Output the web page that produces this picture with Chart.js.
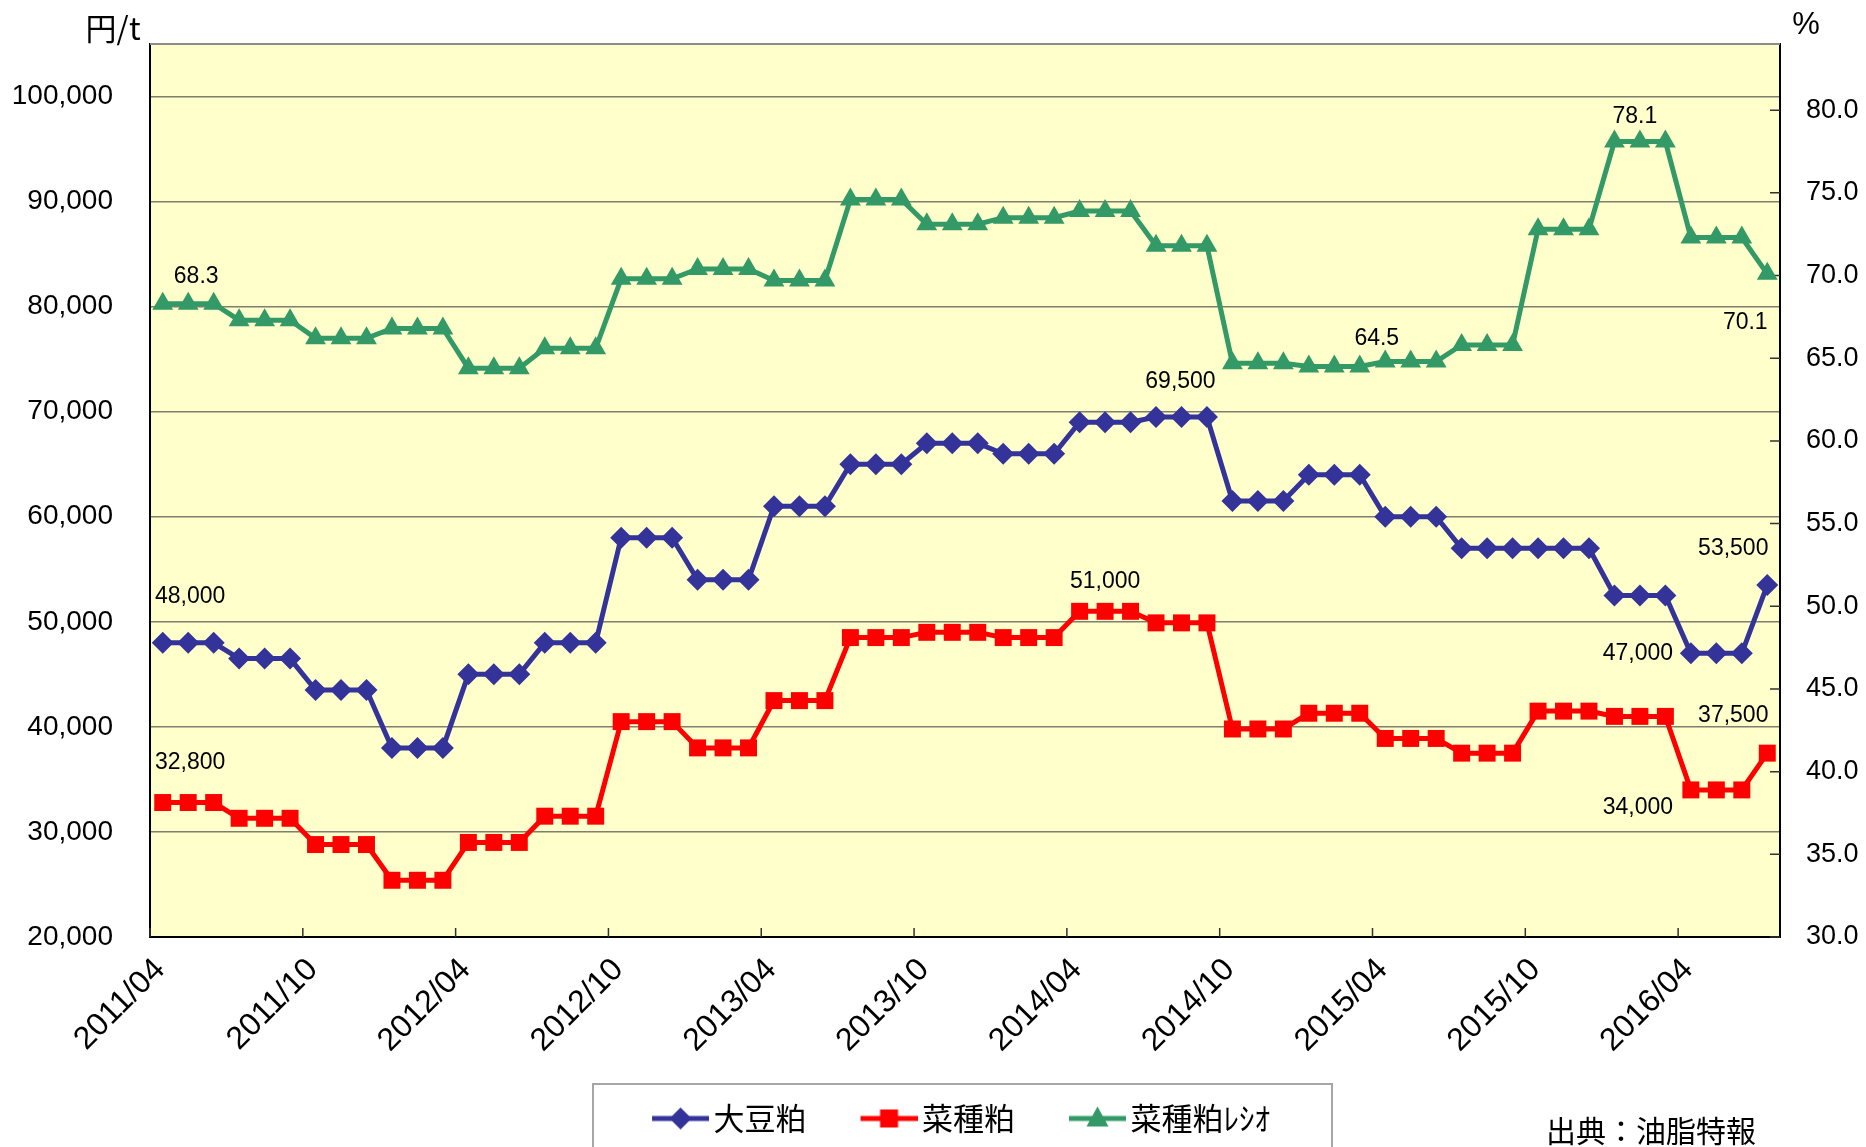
<!DOCTYPE html>
<html lang="ja">
<head>
<meta charset="utf-8">
<title>大豆粕・菜種粕 価格推移</title>
<script src="https://cdn.jsdelivr.net/npm/chart.js@4.4.1/dist/chart.umd.min.js"></script>
<style>
  html, body { margin: 0; padding: 0; background: #fff; }
  #wrap { width: 1866px; height: 1147px; }
</style>
</head>
<body>
<div id="wrap"><canvas id="chart" width="1866" height="1147"></canvas></div>
<script>
// 月 (2011/04 - 2016/07)
const months = [
  '2011/04', '2011/05', '2011/06', '2011/07', '2011/08', '2011/09', '2011/10', '2011/11', '2011/12',
  '2012/01', '2012/02', '2012/03', '2012/04', '2012/05', '2012/06', '2012/07', '2012/08', '2012/09', '2012/10', '2012/11', '2012/12',
  '2013/01', '2013/02', '2013/03', '2013/04', '2013/05', '2013/06', '2013/07', '2013/08', '2013/09', '2013/10', '2013/11', '2013/12',
  '2014/01', '2014/02', '2014/03', '2014/04', '2014/05', '2014/06', '2014/07', '2014/08', '2014/09', '2014/10', '2014/11', '2014/12',
  '2015/01', '2015/02', '2015/03', '2015/04', '2015/05', '2015/06', '2015/07', '2015/08', '2015/09', '2015/10', '2015/11', '2015/12',
  '2016/01', '2016/02', '2016/03', '2016/04', '2016/05', '2016/06', '2016/07'
];
const tickLabels = ['2011/04', '2011/10', '2012/04', '2012/10', '2013/04', '2013/10',
  '2014/04', '2014/10', '2015/04', '2015/10', '2016/04'];
const yTicks = [20000, 30000, 40000, 50000, 60000, 70000, 80000, 90000, 100000];
const y1Ticks = [30, 35, 40, 45, 50, 55, 60, 65, 70, 75, 80];

// 大豆粕 (円/t)
const soyMeal = [
  48000, 48000, 48000, 46500, 46500, 46500, 43500, 43500, 43500, 38000, 38000, 38000,
  45000, 45000, 45000, 48000, 48000, 48000, 58000, 58000, 58000, 54000, 54000, 54000,
  61000, 61000, 61000, 65000, 65000, 65000, 67000, 67000, 67000, 66000, 66000, 66000,
  69000, 69000, 69000, 69500, 69500, 69500, 61500, 61500, 61500, 64000, 64000, 64000,
  60000, 60000, 60000, 57000, 57000, 57000, 57000, 57000, 57000, 52500, 52500, 52500,
  47000, 47000, 47000, 53500
];
// 菜種粕 (円/t)
const rapeMeal = [
  32800, 32800, 32800, 31300, 31300, 31300, 28800, 28800, 28800, 25400, 25400, 25400,
  29000, 29000, 29000, 31500, 31500, 31500, 40500, 40500, 40500, 38000, 38000, 38000,
  42500, 42500, 42500, 48500, 48500, 48500, 49000, 49000, 49000, 48500, 48500, 48500,
  51000, 51000, 51000, 49900, 49900, 49900, 39800, 39800, 39800, 41300, 41300, 41300,
  38900, 38900, 38900, 37500, 37500, 37500, 41500, 41500, 41500, 41000, 41000, 41000,
  34000, 34000, 34000, 37500
];
// 菜種粕レシオ (%)
const rapeRatio = [
  68.3, 68.3, 68.3, 67.3, 67.3, 67.3, 66.2, 66.2, 66.2, 66.8, 66.8, 66.8,
  64.4, 64.4, 64.4, 65.6, 65.6, 65.6, 69.8, 69.8, 69.8, 70.4, 70.4, 70.4,
  69.7, 69.7, 69.7, 74.6, 74.6, 74.6, 73.1, 73.1, 73.1, 73.5, 73.5, 73.5,
  73.9, 73.9, 73.9, 71.8, 71.8, 71.8, 64.7, 64.7, 64.7, 64.5, 64.5, 64.5,
  64.8, 64.8, 64.8, 65.8, 65.8, 65.8, 72.8, 72.8, 72.8, 78.1, 78.1, 78.1,
  72.3, 72.3, 72.3, 70.1
];

// データラベル (系列, 月index, 点からのずれ)
const pointLabels = [
  { ds: 0, i: 1, dx: 2, dy: -46 },
  { ds: 0, i: 40, dx: -1, dy: -35 },
  { ds: 0, i: 60, dx: -53, dy: 0 },
  { ds: 0, i: 63, dx: -34, dy: -36 },
  { ds: 1, i: 1, dx: 2, dy: -40 },
  { ds: 1, i: 37, dx: 0, dy: -30 },
  { ds: 1, i: 60, dx: -53, dy: 18 },
  { ds: 1, i: 63, dx: -34, dy: -37 },
  { ds: 2, i: 1, dx: 8, dy: -27 },
  { ds: 2, i: 47, dx: 17, dy: -28 },
  { ds: 2, i: 58, dx: -5, dy: -25 },
  { ds: 2, i: 63, dx: -22, dy: 49 }
];

const NUM_FONT = "'Liberation Sans', Arial, 'Noto Sans CJK JP', sans-serif";
const JP_FONT = "'Noto Sans CJK JP', 'Liberation Sans', sans-serif";
const BLUE = '#333399';
const RED = '#ff0000';
const GREEN = '#339966';

const toPoints = arr => arr.map((v, i) => ({ x: i + 0.5, y: v }));

// 凡例アイコン (線 + マーカー)
function makeLegendIcon(color, marker) {
  const c = document.createElement('canvas');
  c.width = 112;
  c.height = 30;
  const g = c.getContext('2d');
  g.strokeStyle = color;
  g.fillStyle = color;
  g.lineWidth = 5;
  g.beginPath();
  g.moveTo(55, 15);
  g.lineTo(112, 15);
  g.stroke();
  const cx = 83.5, cy = 15;
  g.beginPath();
  if (marker === 'diamond') {
    g.moveTo(cx, cy - 11); g.lineTo(cx + 11, cy); g.lineTo(cx, cy + 11); g.lineTo(cx - 11, cy);
  } else if (marker === 'square') {
    g.rect(cx - 9, cy - 9, 18, 18);
  } else {
    g.moveTo(cx, cy - 12); g.lineTo(cx + 11, cy + 8); g.lineTo(cx - 11, cy + 8);
  }
  g.closePath();
  g.fill();
  return c;
}
const legendIcons = [
  makeLegendIcon(BLUE, 'diamond'),
  makeLegendIcon(RED, 'square'),
  makeLegendIcon(GREEN, 'triangle')
];

const decorPlugin = {
  id: 'decor',
  beforeDraw(chart) {
    const { ctx, chartArea: a } = chart;
    ctx.save();
    ctx.fillStyle = '#ffffcc';
    ctx.fillRect(a.left, a.top, a.right - a.left, a.bottom - a.top);
    ctx.restore();
  },
  beforeDatasetsDraw(chart) {
    const { ctx, chartArea: a, scales } = chart;
    ctx.save();
    // 上枠
    ctx.strokeStyle = '#8c8c8c';
    ctx.lineWidth = 2;
    ctx.beginPath();
    ctx.moveTo(a.left, a.top);
    ctx.lineTo(a.right, a.top);
    ctx.stroke();
    // 内向き目盛
    ctx.strokeStyle = '#333';
    ctx.lineWidth = 1.5;
    ctx.beginPath();
    scales.x.ticks.forEach(t => {
      const px = scales.x.getPixelForValue(t.value);
      ctx.moveTo(px, a.bottom);
      ctx.lineTo(px, a.bottom - 9);
    });
    scales.y1.ticks.forEach(t => {
      const py = scales.y1.getPixelForValue(t.value);
      ctx.moveTo(a.right, py);
      ctx.lineTo(a.right - 10, py);
    });
    ctx.stroke();
    ctx.restore();
  },
  afterDatasetsDraw(chart) {
    const { ctx } = chart;
    ctx.save();
    ctx.fillStyle = '#000';
    ctx.font = '23px ' + NUM_FONT;
    ctx.textAlign = 'center';
    ctx.textBaseline = 'middle';
    pointLabels.forEach(l => {
      const el = chart.getDatasetMeta(l.ds).data[l.i];
      const v = chart.data.datasets[l.ds].data[l.i].y;
      const txt = l.ds === 2 ? v.toFixed(1) : v.toLocaleString('en-US');
      ctx.fillText(txt, el.x + l.dx, el.y + l.dy);
    });
    ctx.restore();
  },
  afterDraw(chart) {
    const { ctx, legend } = chart;
    ctx.save();
    ctx.fillStyle = '#000';
    ctx.textBaseline = 'middle';
    ctx.textAlign = 'center';
    ctx.font = '31px ' + JP_FONT;
    ctx.fillText('円/t', 113, 28);
    ctx.font = '31px ' + NUM_FONT;
    ctx.fillText('%', 1806, 25);
    ctx.font = '30px ' + JP_FONT;
    ctx.fillText('出典：油脂特報', 1651, 1131);
    // 凡例の枠
    const hb = legend.legendHitBoxes;
    if (hb && hb.length) {
      const first = hb[0], last = hb[hb.length - 1];
      const left = first.left + 44 - 59;
      const right = last.left + last.width + 62;
      const top = first.top - 19;
      ctx.strokeStyle = '#a6a6a6';
      ctx.lineWidth = 2;
      ctx.strokeRect(left, top, right - left, 200);
    }
    ctx.restore();
  }
};

new Chart(document.getElementById('chart'), {
  type: 'line',
  data: {
    datasets: [
      {
        label: '大豆粕',
        data: toPoints(soyMeal),
        yAxisID: 'y',
        borderColor: BLUE,
        backgroundColor: BLUE,
        borderWidth: 5,
        pointStyle: 'rectRot',
        pointRadius: 11,
        pointBorderWidth: 0
      },
      {
        label: '菜種粕',
        data: toPoints(rapeMeal),
        yAxisID: 'y',
        borderColor: RED,
        backgroundColor: RED,
        borderWidth: 5,
        pointStyle: 'rect',
        pointRadius: 12,
        pointBorderWidth: 0
      },
      {
        label: '菜種粕ﾚｼｵ',
        data: toPoints(rapeRatio),
        yAxisID: 'y1',
        borderColor: GREEN,
        backgroundColor: GREEN,
        borderWidth: 5,
        pointStyle: 'triangle',
        pointRadius: 12,
        pointBorderWidth: 0
      }
    ]
  },
  options: {
    responsive: false,
    animation: false,
    devicePixelRatio: 1,
    layout: { padding: { top: 44, left: 12, right: 0, bottom: 3 } },
    plugins: {
      tooltip: { enabled: false },
      legend: {
        position: 'bottom',
        labels: {
          usePointStyle: true,
          pointStyleWidth: 90,
          padding: 10,
          color: '#000',
          font: { size: 31, family: JP_FONT },
          generateLabels: chart => chart.data.datasets.map((ds, i) => ({
            text: ds.label,
            pointStyle: legendIcons[i],
            fillStyle: ds.borderColor,
            strokeStyle: ds.borderColor,
            lineWidth: 0,
            hidden: false,
            datasetIndex: i
          }))
        }
      }
    },
    scales: {
      x: {
        type: 'linear',
        position: 'bottom',
        min: 0,
        max: months.length,
        afterBuildTicks: s => {
          s.ticks = tickLabels.map(l => ({ value: months.indexOf(l) }));
        },
        afterFit: s => { s.height = 156; },
        ticks: {
          autoSkip: false,
          maxRotation: 45,
          minRotation: 45,
          padding: 14,
          labelOffset: 10,
          color: '#000',
          font: { size: 32, family: NUM_FONT },
          callback: v => months[v]
        },
        grid: { display: false, drawTicks: false },
        border: { display: true, color: '#000', width: 2 }
      },
      y: {
        position: 'left',
        min: 20000,
        max: 105000,
        afterBuildTicks: s => {
          s.ticks = yTicks.map(v => ({ value: v }));
        },
        afterFit: s => { s.width = 138; },
        ticks: {
          autoSkip: false,
          padding: 37,
          color: '#000',
          font: { size: 28, family: NUM_FONT, lineHeight: 0.4 },
          callback: v => v.toLocaleString('en-US')
        },
        grid: { color: '#7f7f6f', lineWidth: 1.4, drawTicks: false },
        border: { display: true, color: '#000', width: 2 }
      },
      y1: {
        position: 'right',
        min: 30,
        max: 84,
        afterBuildTicks: s => {
          s.ticks = y1Ticks.map(v => ({ value: v }));
        },
        afterFit: s => { s.width = 86; },
        ticks: {
          autoSkip: false,
          padding: 26,
          color: '#000',
          font: { size: 27, family: NUM_FONT, lineHeight: 0.4 },
          callback: v => v.toFixed(1)
        },
        grid: { display: false, drawTicks: false },
        border: { display: true, color: '#000', width: 2 }
      }
    }
  },
  plugins: [decorPlugin]
});
</script>
</body>
</html>
